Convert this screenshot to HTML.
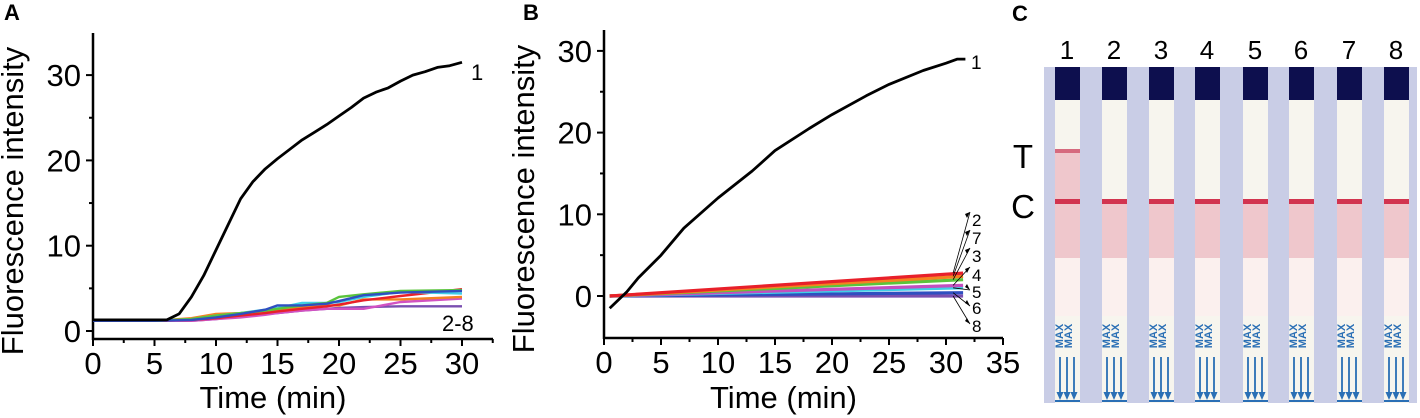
<!DOCTYPE html>
<html><head><meta charset="utf-8"><style>
body{margin:0;background:#fff;width:1420px;height:418px;overflow:hidden;font-family:"Liberation Sans",sans-serif}
svg{position:absolute;left:0;top:0}
text{font-family:"Liberation Sans",sans-serif;fill:#000}
</style></head><body>
<svg id="s" width="1420" height="418">
<g id="pc"></g>
<g id="ga"></g>
<g id="gb"></g>
</svg>
<script>
const NS='http://www.w3.org/2000/svg';
function mk(p,t,a,txt){const e=document.createElementNS(NS,t);for(const k in a)e.setAttribute(k,a[k]);if(txt!==undefined)e.textContent=txt;p.appendChild(e);return e;}

// ---------- Panel A data ----------
const aBlackT=[0,6,7,8,9,10,11,12,13,14,15,16,17,18,19,20,21,22,23,24,25,26,27,28,29,30];
const aBlackV=[1.3,1.3,2,4,6.5,9.5,12.5,15.5,17.5,19,20.2,21.3,22.4,23.3,24.2,25.2,26.2,27.3,28,28.5,29.3,30,30.4,30.9,31.1,31.5];
const aLowT=[0,5,8,10,12,14,15,17,19,20,22,25,30];
const aBlue=[1.2,1.2,1.3,1.6,2,2.5,3,3,3.2,3.5,4.2,4.5,4.7];
const aGreen=[1.2,1.2,1.4,1.8,2.1,2.4,2.6,3,3.3,4,4.3,4.7,4.8];
const aCyan=[1.2,1.2,1.4,1.8,2.1,2.5,2.7,3.3,3.3,3.4,4,4.6,4.4];
const aRed=[1.2,1.2,1.3,1.5,1.8,2.1,2.3,2.6,2.9,3.1,3.6,4.1,4.9];
const aOrange=[1.2,1.2,1.5,2,2.1,2.3,2.4,2.8,3,3,3.7,3.7,4];
const aMagenta=[1.2,1.2,1.2,1.4,1.6,1.9,2.1,2.4,2.6,2.6,2.6,3.4,3.8];
const aPurple=[1.2,1.2,1.2,1.4,1.7,2,2.1,2.4,2.6,2.7,2.8,2.9,2.9];
const aXTicks=[0,5,10,15,20,25,30];
const aYTicks=[0,10,20,30];

// ---------- Panel B data ----------
const bBlackT=[0.5,2,3,5,7,10,13,15,18,20,23,25,28,30,31,31.7];
const bBlackV=[-1.5,0.5,2.2,5,8.3,12,15.3,17.8,20.5,22.2,24.5,25.9,27.6,28.5,29,29];
const bLowT=[0.5,31.5];
const bRed=[0,2.8];
const bOrange=[0,2.4];
const bGreen=[0,2.0];
const bMagenta=[0,1.3];
const bCyan=[0,1.0];
const bBlue=[0,0.4];
const bPurple=[0,0.0];
const bXTicks=[0,5,10,15,20,25,30,35];
const bYTicks=[0,10,20,30];
const bLabels=['2','7','3','4','5','6','8'];

const A={g:document.getElementById('ga'),x0:93,xs:12.3,y0:331,ys:8.53,axY:339,axTop:33,axRight:493,xmax:32.5};
const B={g:document.getElementById('gb'),x0:604,xs:11.4,y0:296,ys:8.17,axY:338,axTop:30,axRight:1003,xmax:35};
function X(P,v){return P.x0+v*P.xs}
function Y(P,v){return P.y0-v*P.ys}

function axes(P,xt,yt,letter,lx){
  const g=P.g;
  let e=mk(g,'line',{x1:P.x0,y1:P.axTop,x2:P.x0,y2:P.axY+1,stroke:'#000','stroke-width':2.5});
  
  e=mk(g,'line',{x1:P.x0-1,y1:P.axY,x2:P.axRight,y2:P.axY,stroke:'#000','stroke-width':2.5});
  
  xt.forEach((v)=>{const x=X(P,v);
    mk(g,'line',{x1:x,y1:P.axY,x2:x,y2:P.axY+7,stroke:'#000','stroke-width':2});
    const hx=X(P,v+2.5); if(v+2.5<=P.xmax) mk(g,'line',{x1:hx,y1:P.axY,x2:hx,y2:P.axY+4,stroke:'#000','stroke-width':2});
    const t=mk(g,'text',{x:x,y:P.axY+35,'font-size':31,'text-anchor':'middle'},String(v));
    
  });
  yt.forEach(v=>{const y=Y(P,v);
    mk(g,'line',{x1:P.x0-7,y1:y,x2:P.x0,y2:y,stroke:'#000','stroke-width':2});
    const hy=Y(P,v+5); if(hy>P.axTop+5) mk(g,'line',{x1:P.x0-4,y1:hy,x2:P.x0,y2:hy,stroke:'#000','stroke-width':2});
    const t=mk(g,'text',{x:P.x0-12,y:y+11,'font-size':31,'text-anchor':'end'},String(v));
    
  });
  let t=mk(g,'text',{x:(P.x0+P.axRight)/2-20,y:408,'font-size':31,'text-anchor':'middle'},'Time (min)');
  
  t=mk(g,'text',{x:0,y:0,'font-size':31,'text-anchor':'middle',transform:`translate(${P.x0-70},${(P.axTop+P.axY)/2+15}) rotate(-90)`},'Fluorescence intensity');
  
  t=mk(g,'text',{x:lx,y:20,'font-size':22,'font-weight':'bold'},letter);
  
}
function line(P,ts,vs,col,w,name){
  const d=ts.map((t,i)=>(i?'L':'M')+X(P,t).toFixed(1)+','+Y(P,vs[i]).toFixed(1)).join('');
  const e=mk(P.g,'path',{d:d,fill:'none',stroke:col,'stroke-width':w,'stroke-linejoin':'round'});
  
}
axes(A,aXTicks,aYTicks,'A',4);
[[aPurple,'#7a4fb0','series-8'],[aMagenta,'#d252c2','series-7'],[aOrange,'#f58220','series-6'],[aRed,'#e8202a','series-5'],[aCyan,'#3fd0e6','series-4'],[aGreen,'#5ac43c','series-3'],[aBlue,'#2f4fc0','series-2']].forEach(s=>line(A,aLowT,s[0],s[1],2.4,s[2]));
line(A,aBlackT,aBlackV,'#000',2.8,'series-1');
let t=mk(A.g,'text',{x:471,y:80,'font-size':22},'1');
t=mk(A.g,'text',{x:442,y:331,'font-size':22},'2-8');

axes(B,bXTicks,bYTicks,'B',523);
const bSeries=[[bRed,'#e8202a'],[bOrange,'#f58220'],[bGreen,'#5ac43c'],[bMagenta,'#c34fbf'],[bCyan,'#3fd0e6'],[bBlue,'#2f4fc0'],[bPurple,'#7a4fb0']];
bSeries.slice().reverse().forEach((s,i)=>line(B,bLowT,s[0],s[1],3.2,'series-'+bLabels[6-i]));
line(B,bBlackT,bBlackV,'#000',2.8,'series-1');
t=mk(B.g,'text',{x:971,y:69,'font-size':19},'1');
const ly=[226,244,262,281,298,314,332];
bLabels.forEach((l,i)=>{
  const ex=X(B,bLowT[1]),ey=Y(B,bSeries[i][0][1]);
  const tx=970,ty=ly[i]-(i<4?14:8);
  mk(B.g,'line',{x1:ex-10,y1:ey,x2:tx,y2:ty,stroke:'#000','stroke-width':0.8});
  mk(B.g,'path',{d:`M${tx},${ty}l-5,${i<4?2:-3}l2,${i<4?4:-3}Z`,fill:'#000'});
  const e=mk(B.g,'text',{x:972,y:ly[i],'font-size':17},l);
  
});

// ---------- Panel C photo ----------
const pc=document.getElementById('pc');
t=mk(pc,'text',{x:1012,y:21,'font-size':22,'font-weight':'bold'},'C');
mk(pc,'rect',{x:1044,y:67,width:373,height:336,fill:'#c9cde6'});
const cx=[1067,1114,1161,1207,1255,1301,1349,1396];
cx.forEach((c,i)=>{
  const x=c-12;
  const g=mk(pc,'g',{});
  
  mk(g,'rect',{x:x,y:100,width:25,height:303,fill:'#f7f5ee'});
  mk(g,'rect',{x:x,y:67,width:25,height:33,fill:'#0d0f4e'});
  mk(g,'rect',{x:x,y:i==0?152:204,width:25,height:i==0?106:54,fill:'#efc7cc'});
  mk(g,'rect',{x:x,y:258,width:25,height:58,fill:'#fbf0ee'});
  mk(g,'rect',{x:x,y:199,width:25,height:5,fill:'#d2344f'});
  if(i==0)mk(g,'rect',{x:x,y:149,width:25,height:4,fill:'#d66a7e'});
  [c-4,c+5].forEach(mx=>{const m=mk(g,'text',{x:0,y:0,'font-size':11,'font-weight':'bold',transform:`translate(${mx},336) rotate(-90)`,'text-anchor':'middle'},'MAX');m.style.fill='#2a6fb5';});
  [c-7,c,c+7].forEach(ax=>{mk(g,'line',{x1:ax,y1:357,x2:ax,y2:395,stroke:'#2a6fb5','stroke-width':1.8});
    mk(g,'path',{d:`M${ax-3.5},392L${ax+3.5},392L${ax},400Z`,fill:'#2a6fb5'});});
  mk(g,'rect',{x:x,y:400,width:25,height:2,fill:'#2a6fb5'});
  const n=mk(pc,'text',{x:c,y:59,'font-size':26,'text-anchor':'middle'},String(i+1));
  
});
t=mk(pc,'text',{x:1023,y:168,'font-size':33,'text-anchor':'middle'},'T');
t=mk(pc,'text',{x:1023,y:218,'font-size':33,'text-anchor':'middle'},'C');
</script>
</body></html>
